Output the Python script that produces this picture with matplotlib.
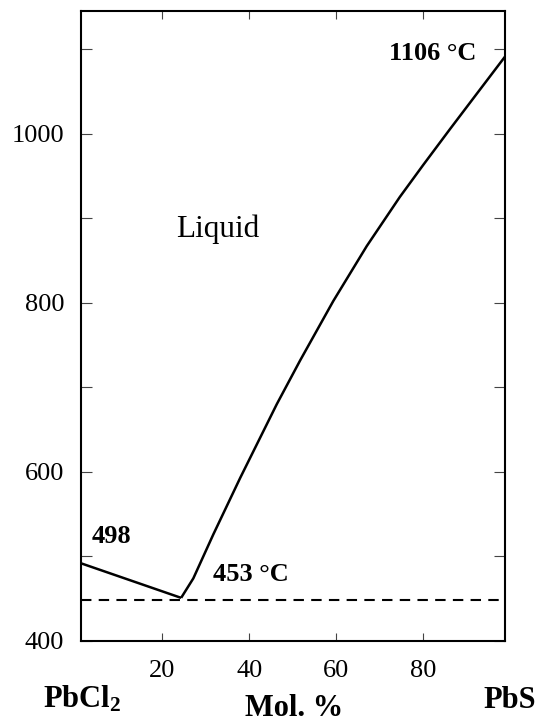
import matplotlib
matplotlib.use("Agg")
import matplotlib.pyplot as plt

plt.rcParams['font.family'] = ['Liberation Serif', 'DejaVu Serif']
plt.rcParams['mathtext.fontset'] = 'custom'
plt.rcParams['mathtext.rm'] = 'Liberation Serif'
plt.rcParams['mathtext.bf'] = 'Liberation Serif:bold'

# liquidus of PbCl2 side (mol. % PbS, deg C)
left_x = [1.2, 24.3]
left_t = [492, 451]

# liquidus of PbS side
right_x = [24.3, 27.1, 31.7, 37.9, 46.3, 51.7, 59.3, 67.0, 74.6, 80.0, 86.1, 92.0, 98.8]
right_t = [451, 474, 526, 593, 680, 732, 802, 867, 925, 963, 1005, 1045, 1091]

eutectic_t = 448
xlim = (1.2, 98.8)
ylim = (400, 1145)

fig = plt.figure(figsize=(5.37, 7.22), dpi=100)
ax = fig.add_axes([0.1503, 0.1122, 0.9404 - 0.1503, 0.9848 - 0.1122])

ax.plot(left_x, left_t, color='black', lw=1.8, solid_capstyle='butt')
ax.plot(right_x, right_t, color='black', lw=1.8, solid_capstyle='butt',
        solid_joinstyle='round')
ax.plot(xlim, [eutectic_t, eutectic_t], color='black', lw=1.5, dashes=(5, 3.5))

ax.set_xlim(*xlim)
ax.set_ylim(*ylim)

ytick_vals = list(range(400, 1101, 100))
ax.set_yticks(ytick_vals)
ax.set_yticklabels([str(v) if v % 200 == 0 else '' for v in ytick_vals])
ax.set_xticks([20, 40, 60, 80])
ax.set_xticklabels(['20', '40', '60', '80'])

ax.tick_params(direction='in', top=True, right=True, labelsize=19,
               width=0.8, color='#444444')
ax.tick_params(axis='y', length=8, pad=12)
ax.tick_params(axis='x', length=6, pad=14)
for s in ax.spines.values():
    s.set_linewidth(1.5)

bold = dict(fontsize=19, fontweight='bold', color='black')
ax.text(92.3, 1095, '1106 °C', ha='right', va='center', **bold)
ax.text(3.8, 523, '498', ha='left', va='center', **bold)
ax.text(31.6, 478.6, '453 °C', ha='left', va='center', **bold)
ax.text(23.1, 878, 'Liquid', ha='left', va='baseline', fontsize=22.5)

fig.text(0.080, 0.0194, r'$\mathbf{PbCl_2}$', ha='left', va='baseline', fontsize=22)
fig.text(0.998, 0.0194, 'PbS', ha='right', va='baseline', fontsize=22, fontweight='bold')
fig.text(0.5475, 0.008, 'Mol. %', ha='center', va='baseline', fontsize=22, fontweight='bold')

fig.savefig('out.png', dpi=100)
